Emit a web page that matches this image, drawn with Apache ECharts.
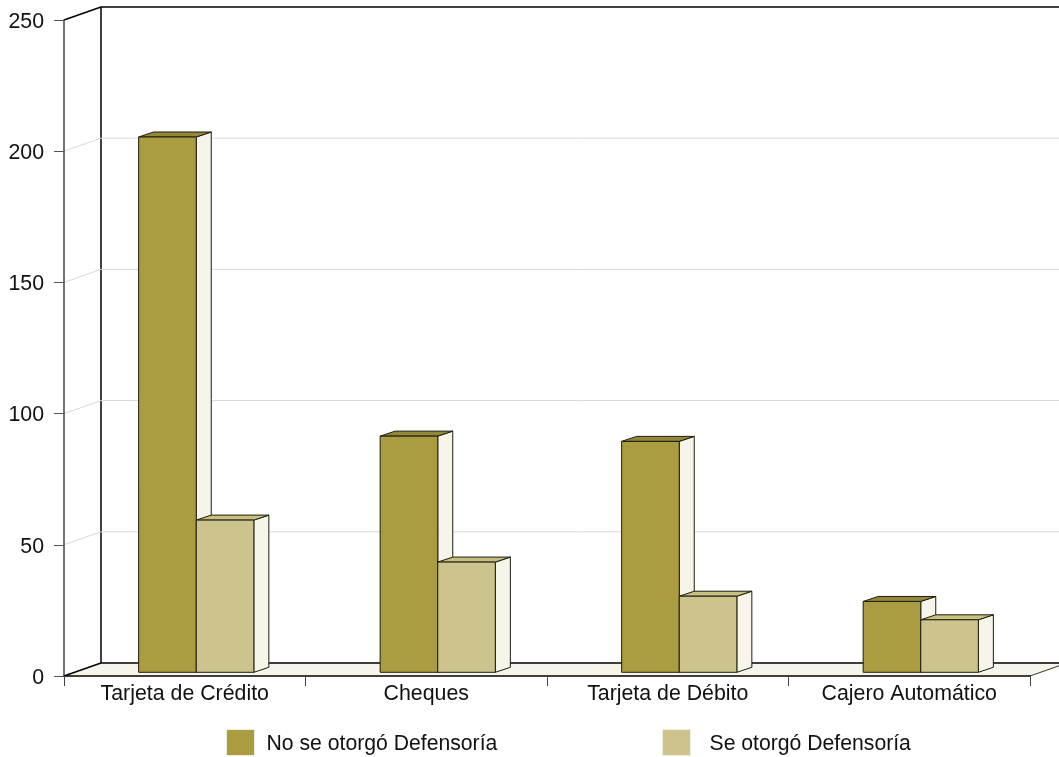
<!DOCTYPE html>
<html>
<head>
<meta charset="utf-8">
<style>html,body{margin:0;padding:0;background:#fff}#c{width:1059px;height:757px}</style>
<script src="https://cdn.jsdelivr.net/npm/echarts@6/dist/echarts.min.js"></script>
</head>
<body>
<div id="c"></div>
<script>
const categories = ['Tarjeta de Crédito', 'Cheques', 'Tarjeta de Débito', 'Cajero Automático'];
const noOtorgo = [204, 90, 88, 27];
const otorgo = [58, 42, 29, 20];
const yTicks = [50, 100, 150, 200];
const seriesNames = ['No se otorgó Defensoría', 'Se otorgó Defensoría'];

const WALL_DX = 37, WALL_DY = -13;
const BAR_SHIFT_X = 11.5, BAR_SHIFT_Y = -3.7, BAR_DX = 15, BAR_DY = -5, BAR_W = 57.6;
const EDGE = '#1d1d10';
const FONT = '"Liberation Sans", Arial, sans-serif';

function poly(points, fill, stroke, lw) {
  return {type: 'polygon', shape: {points}, style: {fill: fill || 'none', stroke: stroke || 'none', lineWidth: lw || 1}};
}
function line(a, b, stroke, lw) {
  return {type: 'line', shape: {x1: a[0], y1: a[1], x2: b[0], y2: b[1]}, style: {stroke, lineWidth: lw || 1}};
}
function renderWalls(params, api) {
  const halfBand = api.size([1, 0])[0] / 2;
  const c0 = api.coord([0, 0]), cT = api.coord([0, 250]);
  const cR = api.coord([categories.length - 1, 0]);
  const l = c0[0] - halfBand, r = cR[0] + halfBand, b = c0[1], t = cT[1];
  const bl = [l + WALL_DX, b + WALL_DY], tl = [l + WALL_DX, t + WALL_DY];
  return {type: 'group', children: [
    poly([[l, b], [r, b], [r + WALL_DX, b + WALL_DY], bl], '#f7f4ea'),
    line([r, b], [r + WALL_DX, b + WALL_DY], '#333', 1),
    line(bl, [r + WALL_DX, bl[1]], '#000', 1.5),
    line(tl, [r + WALL_DX, tl[1]], '#000', 1.5),
    line(tl, bl, '#000', 1.5),
    line([l, t], tl, '#000', 1.5),
    line([l, b], bl, '#000', 1.5)
  ]};
}
function renderGrid(params, api) {
  const halfBand = api.size([1, 0])[0] / 2;
  const p = api.coord([0, api.value(0)]);
  const cR = api.coord([categories.length - 1, 0]);
  const l = p[0] - halfBand, r = cR[0] + halfBand, y = p[1];
  return {type: 'group', children: [
    line([l, y], [l + WALL_DX, y + WALL_DY], '#d8d8d8', 1),
    line([l + WALL_DX, y + WALL_DY], [r + WALL_DX, y + WALL_DY], '#d8d8d8', 1)
  ]};
}
function renderBar(seriesIdx, front, top, side) {
  return function (params, api) {
    const p0 = api.coord([api.value(0), 0]);
    const p1 = api.coord([api.value(0), api.value(1)]);
    const x0 = p0[0] + BAR_SHIFT_X + (seriesIdx - 1) * BAR_W;
    const x1 = x0 + BAR_W;
    const yb = p0[1] + BAR_SHIFT_Y, yt = p1[1] + BAR_SHIFT_Y;
    return {type: 'group', children: [
      poly([[x1, yb], [x1 + BAR_DX, yb + BAR_DY], [x1 + BAR_DX, yt + BAR_DY], [x1, yt]], side, EDGE),
      poly([[x0, yt], [x1, yt], [x1 + BAR_DX, yt + BAR_DY], [x0 + BAR_DX, yt + BAR_DY]], top, EDGE),
      poly([[x0, yb], [x1, yb], [x1, yt], [x0, yt]], front, EDGE)
    ]};
  };
}
function legendText(pad) {
  return {
    rich: {t: {color: '#111', fontFamily: FONT, fontSize: 21.2, padding: pad}}
  };
}
const legendFormat = name => '{t|' + name + '}';
const chart = echarts.init(document.getElementById('c'), null, {renderer: 'canvas'});
chart.setOption({
  animation: false,
  backgroundColor: '#fff',
  grid: {left: 64, right: 29, top: 20, bottom: 81},
  xAxis: {
    type: 'category', data: categories, z: 5,
    axisLine: {lineStyle: {color: '#000', width: 1.5}},
    axisTick: {show: true, length: 10, alignWithLabel: false, lineStyle: {color: '#444'}},
    axisLabel: {color: '#111', fontFamily: FONT, fontSize: 21.33, margin: 8, interval: 0}
  },
  yAxis: {
    type: 'value', min: 0, max: 250, interval: 50, z: 5,
    axisLine: {show: true, lineStyle: {color: '#444', width: 1.5}},
    axisTick: {show: true, length: 10, lineStyle: {color: '#555'}},
    axisLabel: {color: '#111', fontFamily: FONT, fontSize: 21.33, margin: 20, verticalAlign: 'top', lineHeight: 4},
    splitLine: {show: false}
  },
  legend: [
    {data: [{name: seriesNames[0], icon: 'rect'}], left: 226, top: 729, padding: 0, itemWidth: 28, itemHeight: 26, selectedMode: false,
     formatter: legendFormat, textStyle: legendText([4, 0, 0, 7]), itemStyle: {borderColor: '#f0eee0', borderWidth: 1}},
    {data: [{name: seriesNames[1], icon: 'rect'}], left: 662, top: 729, padding: 0, itemWidth: 28, itemHeight: 26, selectedMode: false,
     formatter: legendFormat, textStyle: legendText([4, 0, 0, 14]), itemStyle: {borderColor: '#f0eee0', borderWidth: 1}}
  ],
  series: [
    {type: 'custom', z: 1, silent: true, data: [[0]], renderItem: renderWalls, encode: {x: [], y: []}},
    {type: 'custom', z: 2, silent: true, data: yTicks.map(v => [v]), renderItem: renderGrid, encode: {x: [], y: []}},
    {type: 'custom', z: 3, name: seriesNames[0], itemStyle: {color: '#aa9c40'},
     data: noOtorgo.map((v, i) => [i, v]), renderItem: renderBar(0, '#aa9c40', '#94873a', '#f7f4ea'), encode: {x: 0, y: 1}},
    {type: 'custom', z: 4, name: seriesNames[1], itemStyle: {color: '#ccc48c'},
     data: otorgo.map((v, i) => [i, v]), renderItem: renderBar(1, '#ccc48c', '#c8c080', '#f7f4ea'), encode: {x: 0, y: 1}}
  ]
});
</script>
</body>
</html>
